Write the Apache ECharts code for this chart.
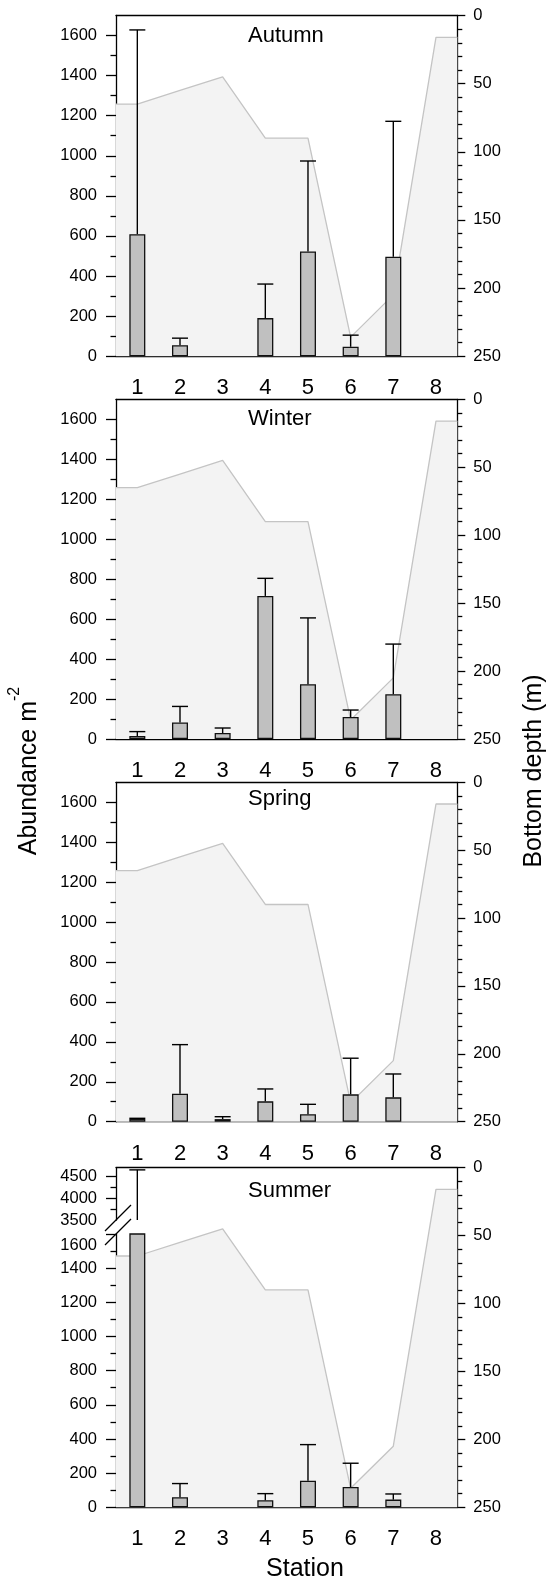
<!DOCTYPE html>
<html><head><meta charset="utf-8">
<script src="https://cdn.jsdelivr.net/npm/echarts@6/dist/echarts.min.js"></script>
<style>html,body{margin:0;padding:0;background:#fff}#c{width:549px;height:1582px}</style>
</head><body><div id="c"></div>
<script>
// ---------------- data ----------------
const stations = ['1', '2', '3', '4', '5', '6', '7', '8'];
const bottomDepth = [65, 55, 45, 90, 90, 236, 205, 16];
const autumnMean = [609, 55, 0, 190, 523, 47, 496, 0];
const autumnSD   = [1019, 35, 0, 170, 451, 58, 676, 0];
const winterMean = [15, 83, 30, 716, 274, 110, 224, 0];
const winterSD   = [22, 80, 25, 88, 332, 35, 251, 0];
const springMean = [14, 140, 13, 102, 37, 137, 122, 0];
const springSD   = [3, 246, 12, 62, 50, 181, 117, 0];
const summerMean = [3500, 59, 0, 41, 156, 119, 45, 0];
const summerSD   = [1150, 80, 0, 39, 211, 139, 33, 0];
const abundanceTicks = [0, 200, 400, 600, 800, 1000, 1200, 1400, 1600];
const summerUpperLabels = [3500, 4000, 4500];
const summerUpperTicks = [4000, 4500];

// ---------------- layout / style ----------------
const FONT = '"Liberation Sans", Arial, Helvetica, sans-serif';
const PL = 116, PR = 549 - 457.3;
const LS = { color: '#000', width: 1.3 };
const TICK_FS = 16.5;
const grids = [], xAxes = [], yAxes = [], series = [], graphics = [];
const plain = v => String(v);

function addGrid(top, height) {
  grids.push({ left: PL, right: PR, top: top, height: height, containLabel: false });
  return grids.length - 1;
}
function catAxis(g, visible) {
  xAxes.push({
    type: 'category', gridIndex: g, data: stations, position: 'bottom', show: visible,
    axisLine: { onZero: false, lineStyle: LS },
    axisTick: { alignWithLabel: true, length: 8, lineStyle: LS },
    axisLabel: { fontSize: 22, margin: 21, color: '#000', fontFamily: FONT },
    splitLine: { show: false }
  });
  return xAxes.length - 1;
}
function topAxis(g) {
  xAxes.push({
    type: 'value', gridIndex: g, min: 0.5, max: 8.5, position: 'top',
    axisLine: { show: true, onZero: false, lineStyle: LS },
    axisTick: { show: false }, axisLabel: { show: false }, splitLine: { show: false }
  });
  return xAxes.length - 1;
}
function depthAxis(g) {
  yAxes.push({
    type: 'value', gridIndex: g, position: 'right', inverse: true, min: 0, max: 250, interval: 50,
    axisLine: { show: true, onZero: false, lineStyle: LS },
    axisTick: { show: true, length: 8, lineStyle: LS },
    minorTick: { show: true, splitNumber: 5, length: 5, lineStyle: LS },
    axisLabel: { fontSize: TICK_FS, margin: 16, color: '#000', fontFamily: FONT, formatter: plain },
    splitLine: { show: false }
  });
  return yAxes.length - 1;
}
function abundAxis(g, cfg) {
  yAxes.push(Object.assign({
    type: 'value', gridIndex: g, position: 'left',
    axisLine: { show: true, onZero: false, lineStyle: LS },
    minorTick: { show: true, splitNumber: 2, length: 5.5, lineStyle: LS },
    splitLine: { show: false }
  }, cfg));
  return yAxes.length - 1;
}
function renderErr(params, api) {
  const cs = params.coordSys;
  const m = api.value(1), t = api.value(2);
  if (!(t > m)) return null;
  const p0 = api.coord([api.value(0), m]);
  const p1 = api.coord([api.value(0), t]);
  const x = p0[0];
  const top = cs.y, bot = cs.y + cs.height;
  const c0 = Math.min(Math.max(p0[1], top), bot);
  const c1 = Math.min(Math.max(p1[1], top), bot);
  if (c0 - c1 < 0.5) return null;
  const st = { stroke: '#000', lineWidth: 1.4 };
  const ch = [{ type: 'line', shape: { x1: x, y1: c0, x2: x, y2: c1 }, style: st }];
  if (p1[1] >= top - 0.5) ch.push({ type: 'line', shape: { x1: x - 8, y1: p1[1], x2: x + 8, y2: p1[1] }, style: st });
  return { type: 'group', children: ch };
}
function depthSeries(xi, yi) {
  const pts = [[0.5, bottomDepth[0]]].concat(bottomDepth.map((d, i) => [i + 1, d]), [[8.5, bottomDepth[bottomDepth.length - 1]]]);
  series.push({
    type: 'line', xAxisIndex: xi, yAxisIndex: yi, data: pts, symbol: 'none', silent: true, z: 1,
    lineStyle: { color: '#c4c4c4', width: 1.3 },
    areaStyle: { color: '#f3f3f3', opacity: 1, origin: 'end' }
  });
}
function barSeries(xi, yi, mean) {
  series.push({
    type: 'bar', xAxisIndex: xi, yAxisIndex: yi, data: mean.map(v => (v > 0 ? v : null)), barWidth: 16, z: 2,
    itemStyle: { color: '#c0c0c0', borderColor: '#111', borderWidth: 1.3 }
  });
}
function errSeries(xi, yi, mean, sd) {
  series.push({
    type: 'custom', xAxisIndex: xi, yAxisIndex: yi, z: 3, renderItem: renderErr,
    encode: { x: 0, y: 1 },
    data: mean.map((m, i) => [i, m, m + sd[i]])
  });
}
function title(text, x, y) {
  graphics.push({ type: 'text', x: x, y: y, z: 100,
    style: { text: text, fontSize: 22, fontFamily: FONT, fill: '#000', align: 'left', verticalAlign: 'middle' } });
}

// ---------------- three regular panels ----------------
const panels = [
  { name: 'Autumn', mean: autumnMean, sd: autumnSD, top: 15.5, height: 340.7, ty: 36.3 },
  { name: 'Winter', mean: winterMean, sd: winterSD, top: 399.3, height: 339.7, ty: 419 },
  { name: 'Spring', mean: springMean, sd: springSD, top: 782.3, height: 339.4, ty: 799 }
];
panels.forEach(p => {
  const g = addGrid(p.top, p.height);
  const cx = catAxis(g, true);
  const tx = topAxis(g);
  const ay = abundAxis(g, {
    min: 0, max: 1700, interval: 200,
    axisTick: { show: true, length: 10, lineStyle: LS, customValues: abundanceTicks },
    axisLabel: { fontSize: TICK_FS, margin: 19, color: '#000', fontFamily: FONT, customValues: abundanceTicks, formatter: plain }
  });
  const dy = depthAxis(g);
  depthSeries(tx, dy);
  barSeries(cx, ay, p.mean);
  errSeries(cx, ay, p.mean, p.sd);
  title(p.name, 248, p.ty);
});

// ---------------- summer panel with broken axis ----------------
const gFull = addGrid(1167.7, 339.6);
const gUp = addGrid(1167.7, 52.3);
const gLow = addGrid(1234, 273.3);
const sTop = topAxis(gFull);
const sDepth = depthAxis(gFull);
depthSeries(sTop, sDepth);
const upX = catAxis(gUp, false);
const upY = abundAxis(gUp, {
  min: 3500, max: 4700, interval: 500,
  axisTick: { show: true, length: 10, lineStyle: LS, customValues: summerUpperTicks },
  axisLabel: { fontSize: TICK_FS, margin: 19, color: '#000', fontFamily: FONT, customValues: summerUpperLabels, formatter: plain }
});
const lowX = catAxis(gLow, true);
const lowY = abundAxis(gLow, {
  min: 0, max: 1600, interval: 200,
  axisTick: { show: true, length: 10, lineStyle: LS },
  axisLabel: { fontSize: TICK_FS, margin: 19, color: '#000', fontFamily: FONT,
    formatter: v => (v === 1600 ? '{lo|' + v + '}' : String(v)),
    rich: { lo: { fontSize: TICK_FS, fontFamily: FONT, color: '#000', padding: [22, 0, 0, 0] } } }
});
barSeries(lowX, lowY, summerMean);
errSeries(lowX, lowY, summerMean, summerSD);
errSeries(upX, upY, summerMean, summerSD);
title('Summer', 248, 1191);

// break marks
graphics.push({ type: 'line', z: 100, shape: { x1: 105, y1: 1231, x2: 131, y2: 1205 }, style: { stroke: '#000', lineWidth: 1.2 } });
graphics.push({ type: 'line', z: 100, shape: { x1: 105, y1: 1245, x2: 131, y2: 1219 }, style: { stroke: '#000', lineWidth: 1.2 } });

// axis names
graphics.push({ type: 'text', x: 29, y: 771, rotation: Math.PI / 2, z: 100,
  style: { text: '{a|Abundance m}{s|-2}', align: 'center', verticalAlign: 'middle',
    rich: { a: { fontSize: 25, fontFamily: FONT, fill: '#000', lineHeight: 44 },
            s: { fontSize: 16, fontFamily: FONT, fill: '#000', lineHeight: 16, verticalAlign: 'top' } } } });
graphics.push({ type: 'text', x: 534, y: 771, rotation: Math.PI / 2, z: 100,
  style: { text: 'Bottom depth (m)', fontSize: 25, fontFamily: FONT, fill: '#000', align: 'center', verticalAlign: 'middle' } });
graphics.push({ type: 'text', x: 305, y: 1569, z: 100,
  style: { text: 'Station', fontSize: 25, fontFamily: FONT, fill: '#000', align: 'center', verticalAlign: 'middle' } });

const chart = echarts.init(document.getElementById('c'), null, { renderer: 'canvas' });
chart.setOption({
  animation: false,
  backgroundColor: '#fff',
  grid: grids, xAxis: xAxes, yAxis: yAxes, series: series, graphic: graphics
});
</script></body></html>
